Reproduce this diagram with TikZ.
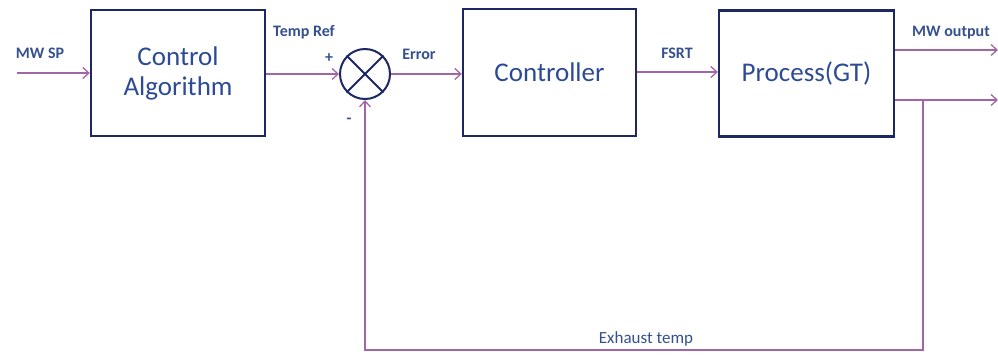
\documentclass[tikz,border=0pt]{standalone}
\usepackage{fontspec}
\setmainfont{Carlito}
\usetikzlibrary{arrows.meta}
\definecolor{boxedge}{HTML}{1C2763}
\definecolor{boxtext}{HTML}{2D4A96}
\definecolor{labeltext}{HTML}{34508F}
\definecolor{wire}{HTML}{A266A8}
\tikzset{
  block/.style={draw=boxedge, line width=2.4pt, minimum width=174pt, minimum height=126pt,
    text=boxtext, font=\fontsize{27}{30}\selectfont, align=center, inner sep=0pt},
  sumnode/.style={draw=boxedge, line width=2pt, circle, minimum size=50pt, inner sep=0pt},
  sig/.style={draw=wire, line width=1.3pt, -{Straight Barb[length=6pt,width=11pt,line width=1.3pt]}},
  lbl/.style={text=labeltext, font=\fontsize{16}{18}\selectfont\bfseries, inner sep=0pt},
  lblthin/.style={text=labeltext, font=\fontsize{17}{19}\selectfont, inner sep=0pt}
}
\begin{document}
\begin{tikzpicture}[x=1pt, y=-1pt]
\useasboundingbox (0,0) rectangle (998,354);

% blocks
\node[block] (alg) at (178,73) {Control\\Algorithm};
\node[block, minimum width=173pt, minimum height=127pt] (ctrl) at (549.5,72.5) {Controller};
\node[block, minimum width=175pt] (proc) at (806.5,73.5) {Process(GT)};
\node[sumnode] (sum) at (365,74) {};
\draw[boxedge, line width=2pt] (sum.north west) -- (sum.south east)
                               (sum.north east) -- (sum.south west);

% free ends
\coordinate (in) at (17,73);
\coordinate (out1) at (998,50);
\coordinate (out2) at (998,100);
\coordinate (tap) at (923,100);
\coordinate (fb1) at (923,350);
\coordinate (fb2) at (365,350);

% signals
\draw[sig] (in) -- (alg.west |- in);
\draw[sig] (alg.east |- sum) -- (sum.west);
\draw[sig] (sum.east) -- (ctrl.west |- sum);
\draw[sig] (ctrl.east |- 0,72) -- (proc.west |- 0,72);
\draw[sig] (proc.east |- out1) -- (out1);
\draw[sig] (proc.east |- out2) -- (out2);
\draw[sig] (tap) -- (fb1) -- (fb2) -- (sum.south);

% labels
\node[lbl] (l1) at (40,53) {MW SP};
\node[lbl] (l2) at (304,32) {Temp Ref};
\node[lbl] (l3) at (329,58) {+};
\node[lbl] (l4) at (349,121) {-};
\node[lbl] (l5) at (419,54) {Error};
\node[lbl] (l6) at (677,53) {FSRT};
\node[lbl] (l7) at (951,33) {MW output};
\node[lblthin] (l8) at (646,339) {Exhaust temp};
\end{tikzpicture}
\end{document}
